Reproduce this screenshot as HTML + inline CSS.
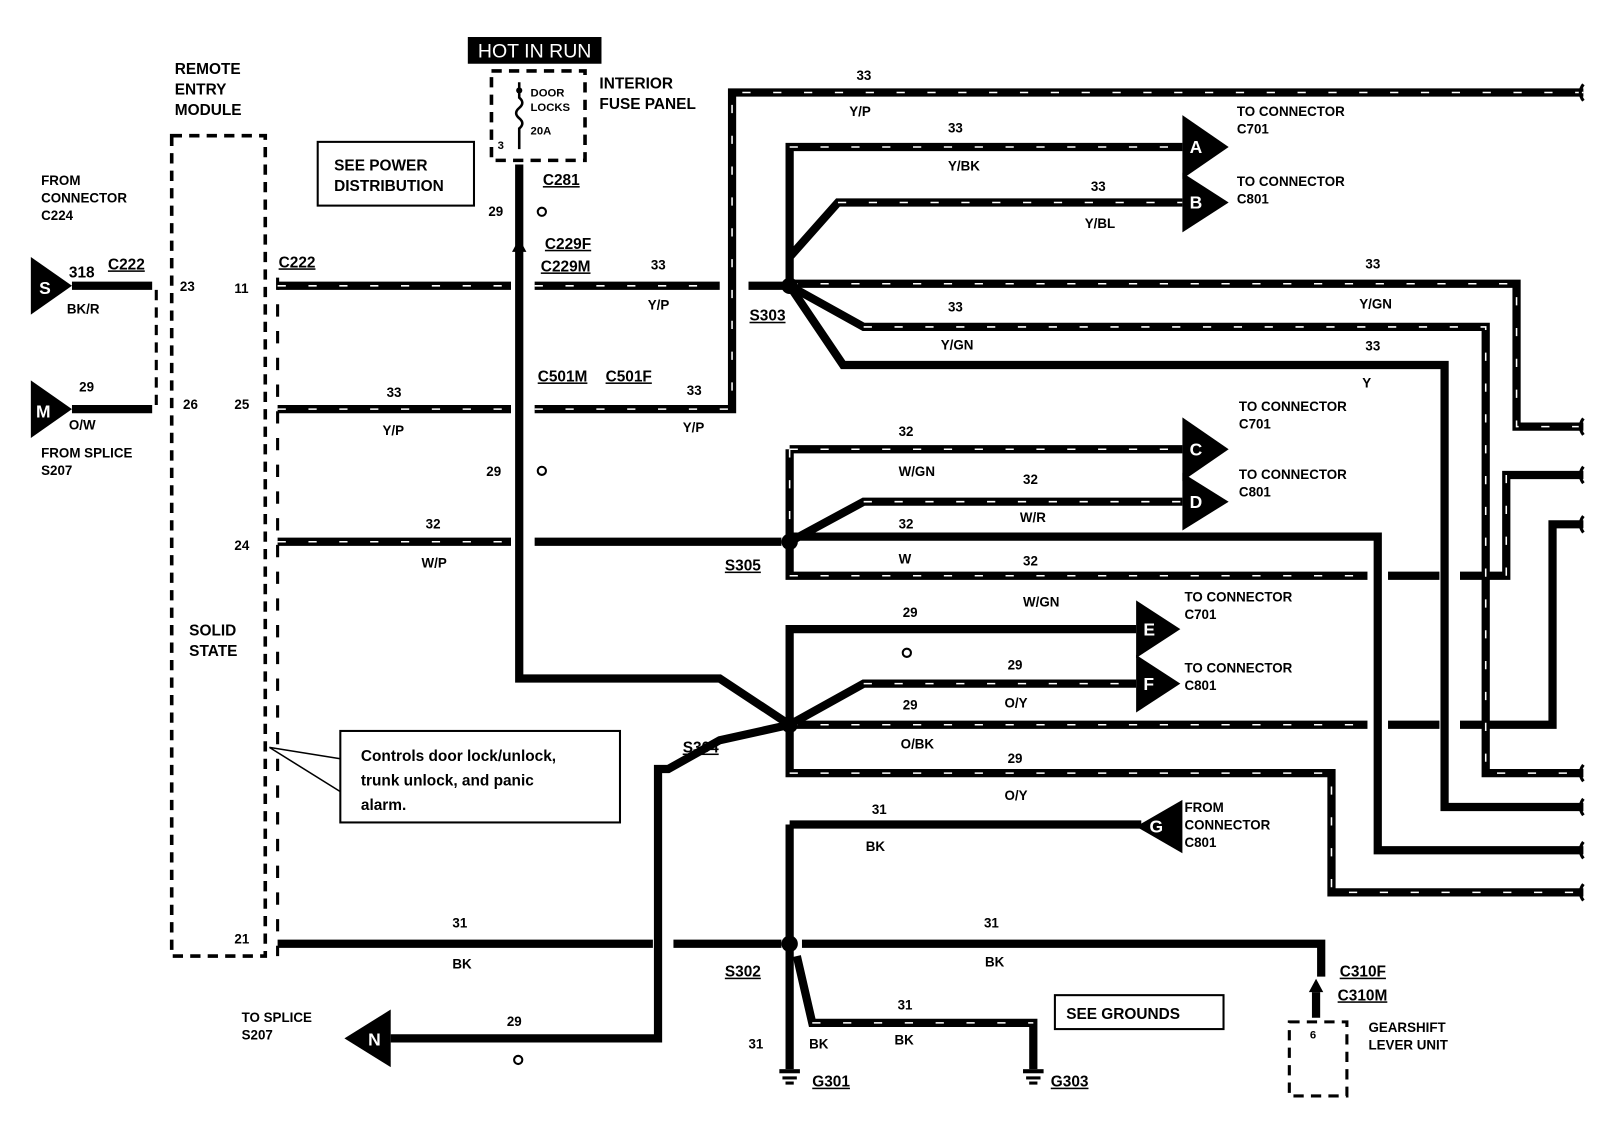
<!DOCTYPE html>
<html><head><meta charset="utf-8"><style>
html,body{margin:0;padding:0;background:#fff}
svg{display:block}
text{font-family:"Liberation Sans",sans-serif;font-weight:bold;fill:#000;font-size:13px}
.w{fill:none;stroke:#000;stroke-width:8}
.s{fill:none;stroke:#fff;stroke-width:1.5;stroke-dasharray:8 22}
.d{fill:none;stroke:#000;stroke-width:3;stroke-dasharray:10 7}
</style></head><body>
<svg width="1606" height="1136" viewBox="0 0 1562 1105" preserveAspectRatio="none">
<rect x="455" y="36" width="130" height="26" fill="#000"/>
<text x="520" y="56" text-anchor="middle" style="fill:#fff;font-size:19px;font-weight:normal">HOT IN RUN</text>
<rect x="478" y="69" width="91" height="87" class="d" style="stroke-width:3.5"/>
<text x="583" y="86" style="font-size:15px">INTERIOR</text>
<text x="583" y="106" style="font-size:15px">FUSE PANEL</text>
<text x="516" y="94" style="font-size:11px">DOOR</text>
<text x="516" y="108" style="font-size:11px">LOCKS</text>
<text x="516" y="131" style="font-size:11px">20A</text>
<text x="484" y="145" style="font-size:11px">3</text>
<path d="M505 80 v15 q6 5 0 10 q-6 5 0 10 q6 5 0 10 v20" fill="none" stroke="#000" stroke-width="2.5"/>
<circle cx="505" cy="88" r="3"/>
<text x="170" y="72" style="font-size:15px">REMOTE</text>
<text x="170" y="92" style="font-size:15px">ENTRY</text>
<text x="170" y="112" style="font-size:15px">MODULE</text>
<rect x="167" y="132" width="91" height="798" class="d" style="stroke-width:3.5"/>
<text x="184" y="618" style="font-size:15px">SOLID</text>
<text x="184" y="638" style="font-size:15px">STATE</text>
<rect x="309" y="138" width="152" height="62" fill="none" stroke="#000" stroke-width="2"/>
<text x="325" y="166" style="font-size:15px">SEE POWER</text>
<text x="325" y="186" style="font-size:15px">DISTRIBUTION</text>
<text x="40" y="180">FROM</text><text x="40" y="197">CONNECTOR</text><text x="40" y="214">C224</text>
<text x="40" y="445">FROM SPLICE</text><text x="40" y="462">S207</text>
<polygon points="30,250 30,306 70,278" fill="#000"/><text x="38" y="286" style="fill:#fff;font-size:17px">S</text>
<polygon points="30,370 30,426 70,398" fill="#000"/><text x="35" y="406" style="fill:#fff;font-size:17px">M</text>
<path class="w" d="M70 278 H148 M70 398 H148"/>
<path class="d" d="M152 282 V394"/>
<text x="67" y="270" style="font-size:15px">318</text><text x="105" y="262" style="font-size:15px;text-decoration:underline">C222</text>
<text x="65" y="305">BK/R</text><text x="77" y="381">29</text><text x="67" y="418">O/W</text>
<text x="175" y="283">23</text><text x="178" y="398">26</text>
<text x="228" y="285">11</text><text x="228" y="398">25</text><text x="228" y="535">24</text><text x="228" y="918">21</text>
<path d="M270 270 V930" stroke="#000" stroke-width="3" stroke-dasharray="12 14" fill="none"/>
<g class="w">
<path d="M270 278 H497 M520 278 H700 M728 278 H768"/>
<path d="M270 398 H497 M520 398 H712 V90 H1540"/>
<path d="M768 278 V143 H1150 M768 250 L815 197 H1150"/>
<path d="M768 276 H1475 V415 H1540"/>
<path d="M768 278 L840 318 H1445 V752 H1540"/>
<path d="M768 278 L820 355 H1405 V785 H1540"/>
<path d="M505 160 V660 H700 L768 705"/>
<path d="M768 437 H1150 M768 437 V560 H1330 M1350 560 H1400 M1420 560 H1465 V462 H1540"/>
<path d="M768 527 L840 488 H1150 M768 522 H1340 V827 H1540"/>
<path d="M270 527 H497 M520 527 H760"/>
<path d="M768 705 V612 H1105 M768 705 L840 665 H1105"/>
<path d="M768 705 H1330 M1350 705 H1400 M1420 705 H1510 V510 H1540"/>
<path d="M768 705 V752 H1295 V868 H1540"/>
<path d="M768 705 L700 720 L650 748 H640 V1010 H380"/>
<path d="M768 802 H1110 M768 802 V1040"/>
<path d="M270 918 H635 M655 918 H760 M780 918 H1285 V950"/>
<path d="M775 930 L790 995 H1005 V1040"/>
<path d="M1280 965 V990"/>
</g>
<g class="s">
<path d="M520 398 H712 V90 H1540"/><path d="M768 143 H1150"/><path d="M815 197 H1150"/>
<path d="M768 276 H1475 V415 H1540"/><path d="M840 318 H1445 V752 H1540"/>
<path d="M270 278 H497 M520 278 H700"/><path d="M270 398 H497"/><path d="M768 437 H1150 V437 M768 437 V527"/>
<path d="M768 560 H1330"/><path d="M840 488 H1150"/><path d="M270 527 H497"/>
<path d="M840 665 H1105"/><path d="M768 705 H1330 M1465 560 V462"/><path d="M768 752 H1295 V868 H1540"/>
<path d="M790 995 H1005"/>
</g>
<g fill="#000"><circle cx="768" cy="278" r="8"/><circle cx="768" cy="527" r="8"/><circle cx="768" cy="705" r="8"/><circle cx="768" cy="918" r="8"/></g>
<g fill="none" stroke="#000" stroke-width="2"><circle cx="527" cy="206" r="4"/><circle cx="527" cy="458" r="4"/><circle cx="882" cy="635" r="4"/><circle cx="504" cy="1031" r="4"/></g>
<g fill="#000">
<polygon points="1150,112 1150,174 1195,143"/><polygon points="1150,168 1150,226 1195,197"/>
<polygon points="1150,406 1150,468 1195,437"/><polygon points="1150,460 1150,516 1195,488"/>
<polygon points="1105,584 1105,640 1148,612"/><polygon points="1105,637 1105,693 1148,665"/>
<polygon points="1150,778 1150,830 1105,804"/><polygon points="380,982 380,1038 335,1010"/>
</g>
<text x="1157" y="149" style="fill:#fff;font-size:17px">A</text><text x="1157" y="203" style="fill:#fff;font-size:17px">B</text><text x="1157" y="443" style="fill:#fff;font-size:17px">C</text><text x="1157" y="494" style="fill:#fff;font-size:17px">D</text><text x="1112" y="618" style="fill:#fff;font-size:17px">E</text><text x="1112" y="671" style="fill:#fff;font-size:17px">F</text><text x="1118" y="810" style="fill:#fff;font-size:17px">G</text><text x="358" y="1017" style="fill:#fff;font-size:17px">N</text>
<text x="528" y="180" style="font-size:15px;text-decoration:underline">C281</text>
<text x="530" y="242" style="font-size:15px;text-decoration:underline">C229F</text>
<text x="526" y="264" style="font-size:15px;text-decoration:underline">C229M</text>
<text x="271" y="260" style="font-size:15px;text-decoration:underline">C222</text>
<text x="523" y="371" style="font-size:15px;text-decoration:underline">C501M</text>
<text x="589" y="371" style="font-size:15px;text-decoration:underline">C501F</text>
<text x="729" y="312" style="font-size:15px;text-decoration:underline">S303</text>
<text x="705" y="555" style="font-size:15px;text-decoration:underline">S305</text>
<text x="664" y="732" style="font-size:15px;text-decoration:underline">S304</text>
<text x="705" y="950" style="font-size:15px;text-decoration:underline">S302</text>
<text x="1303" y="950" style="font-size:15px;text-decoration:underline">C310F</text>
<text x="1301" y="973" style="font-size:15px;text-decoration:underline">C310M</text>
<text x="790" y="1057" style="font-size:15px;text-decoration:underline">G301</text>
<text x="1022" y="1057" style="font-size:15px;text-decoration:underline">G303</text>
<polygon points="498,245 512,245 505,232" fill="#000"/>
<polygon points="1273,965 1287,965 1280,952" fill="#000"/>
<text x="475" y="210">29</text><text x="473" y="463">29</text>
<text x="633" y="262">33</text><text x="630" y="301">Y/P</text>
<text x="376" y="386">33</text><text x="372" y="423">Y/P</text>
<text x="668" y="384">33</text><text x="664" y="420">Y/P</text>
<text x="833" y="78">33</text><text x="826" y="113">Y/P</text>
<text x="922" y="129">33</text><text x="922" y="166">Y/BK</text>
<text x="1061" y="186">33</text><text x="1055" y="222">Y/BL</text>
<text x="1328" y="261">33</text><text x="1322" y="300">Y/GN</text>
<text x="922" y="303">33</text><text x="915" y="340">Y/GN</text>
<text x="1328" y="341">33</text><text x="1325" y="377">Y</text>
<text x="874" y="424">32</text><text x="874" y="463">W/GN</text>
<text x="995" y="471">32</text><text x="992" y="508">W/R</text>
<text x="874" y="514">32</text><text x="874" y="548">W</text>
<text x="995" y="550">32</text><text x="995" y="590">W/GN</text>
<text x="414" y="514">32</text><text x="410" y="552">W/P</text>
<text x="878" y="600">29</text><text x="980" y="651">29</text><text x="977" y="688">O/Y</text>
<text x="878" y="690">29</text><text x="876" y="728">O/BK</text>
<text x="980" y="742">29</text><text x="977" y="778">O/Y</text>
<text x="848" y="792">31</text><text x="842" y="828">BK</text>
<text x="440" y="902">31</text><text x="440" y="942">BK</text>
<text x="957" y="902">31</text><text x="958" y="940">BK</text>
<text x="873" y="982">31</text><text x="870" y="1016">BK</text><text x="787" y="1020">BK</text>
<text x="728" y="1020">31</text><text x="493" y="998">29</text>
<text x="1203" y="113">TO CONNECTOR</text><text x="1203" y="130">C701</text>
<text x="1203" y="181">TO CONNECTOR</text><text x="1203" y="198">C801</text>
<text x="1205" y="400">TO CONNECTOR</text><text x="1205" y="417">C701</text>
<text x="1205" y="466">TO CONNECTOR</text><text x="1205" y="483">C801</text>
<text x="1152" y="585">TO CONNECTOR</text><text x="1152" y="602">C701</text>
<text x="1152" y="654">TO CONNECTOR</text><text x="1152" y="671">C801</text>
<text x="1152" y="790">FROM</text><text x="1152" y="807">CONNECTOR</text><text x="1152" y="824">C801</text>
<text x="235" y="994">TO SPLICE</text><text x="235" y="1011">S207</text>
<text x="1331" y="1004">GEARSHIFT</text><text x="1331" y="1021">LEVER UNIT</text>
<rect x="1254" y="994" width="56" height="72" class="d" style="stroke-width:3"/>
<text x="1274" y="1010" style="font-size:11px">6</text>
<rect x="1026" y="968" width="164" height="33" fill="none" stroke="#000" stroke-width="2"/>
<text x="1037" y="991" style="font-size:15px">SEE GROUNDS</text>
<rect x="331" y="711" width="272" height="89" fill="none" stroke="#000" stroke-width="2"/>
<text x="351" y="740" style="font-size:15px">Controls door lock/unlock,</text>
<text x="351" y="764" style="font-size:15px">trunk unlock, and panic</text>
<text x="351" y="788" style="font-size:15px">alarm.</text>
<path d="M262 727 L331 738 M262 727 L331 770" stroke="#000" stroke-width="1.5"/>
<g fill="#000"><rect x="758" y="1040" width="20" height="4"/><rect x="761" y="1047" width="14" height="3"/><rect x="764" y="1052" width="8" height="3"/>
<rect x="995" y="1040" width="20" height="4"/><rect x="998" y="1047" width="14" height="3"/><rect x="1001" y="1052" width="8" height="3"/></g>
<g fill="none" stroke="#000" stroke-width="3">
<path d="M1540 82 q-6 8 0 16 M1540 407 q-6 8 0 16 M1540 454 q-6 8 0 16 M1540 502 q-6 8 0 16 M1540 744 q-6 8 0 16 M1540 777 q-6 8 0 16 M1540 819 q-6 8 0 16 M1540 860 q-6 8 0 16"/>
</g>
</svg>
</body></html>
